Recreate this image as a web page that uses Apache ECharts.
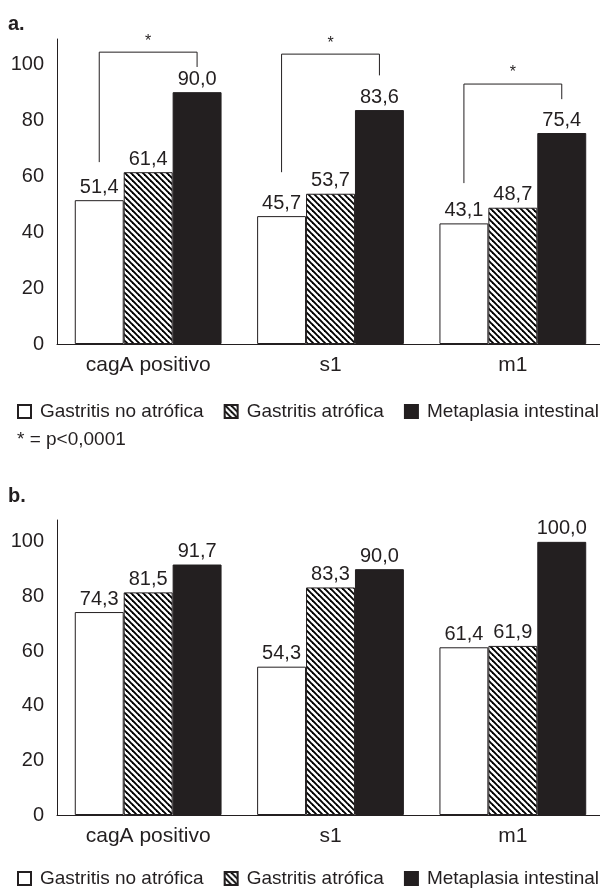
<!DOCTYPE html>
<html><head><meta charset="utf-8">
<script src="https://cdn.jsdelivr.net/npm/echarts@6/dist/echarts.min.js"></script>
<style>html,body{margin:0;padding:0;background:#fff}#c{width:600px;height:894px}</style>
</head><body><div id="c"></div>
<script>
// ---- data ----
const categories = ['cagA positivo', 's1', 'm1'];
const seriesNames = ['Gastritis no atrófica', 'Gastritis atrófica', 'Metaplasia intestinal'];
const aNoAtrofica = [51.4, 45.7, 43.1];
const aAtrofica = [61.4, 53.7, 48.7];
const aMetaplasia = [90.0, 83.6, 75.4];
const bNoAtrofica = [74.3, 54.3, 61.4];
const bAtrofica = [81.5, 83.3, 61.9];
const bMetaplasia = [91.7, 90.0, 100.0];
const yTicks = [0, 20, 40, 60, 80, 100];
// significance brackets (chart a): [category, left end, top, right end] in value units
const bracketCats = [0, 1, 2];
const bracketLeft = [65, 61.4, 57.5];
const bracketTop = [104.3, 103.6, 92.9];
const bracketRight = [99, 96, 87.5];
const footnote = '* = p<0,0001';

const DARK = '#231f20';
const FONT = '"Liberation Sans", Arial, Helvetica, sans-serif';

// hatch pattern
const pc = document.createElement('canvas');
pc.width = 6; pc.height = 6;
const g = pc.getContext('2d');
g.fillStyle = '#fff'; g.fillRect(0, 0, 6, 6);
g.strokeStyle = '#000'; g.lineWidth = 1.9;
for (const k of [-6, 0, 6]) { g.beginPath(); g.moveTo(k - 1, -1); g.lineTo(k + 7, 7); g.stroke(); }
const hatch = { image: pc, repeat: 'repeat' };

const fills = ['#ffffff', hatch, DARK];
const GAP = 0.195;

function fmt(v) { return v.toFixed(1).replace('.', ','); }

function barSeries(name, data, idx, axis) {
  return {
    name: name, type: 'bar', data: data,
    xAxisIndex: axis, yAxisIndex: axis,
    barGap: '0%', barCategoryGap: (GAP * 100) + '%',
    itemStyle: { color: fills[idx], borderColor: DARK, borderWidth: 1 },
    label: { show: true, position: 'top', distance: 3, color: DARK, fontSize: 20, fontFamily: FONT,
      formatter: p => fmt(p.value) },
    emphasis: { disabled: true }, animation: false
  };
}

const bracketData = bracketCats.map((c, i) => [c, bracketLeft[i], bracketTop[i], bracketRight[i]]);

function yAxis(gi, max) {
  return {
    type: 'value', gridIndex: gi, min: 0, max: max, interval: 20,
    axisLine: { show: true, lineStyle: { color: DARK, width: 1 } },
    axisTick: { show: false }, splitLine: { show: false },
    axisLabel: { color: DARK, fontSize: 20, fontFamily: FONT, margin: 13,
      formatter: v => (yTicks.indexOf(v) >= 0 ? String(v) : '') }
  };
}
function xAxis(gi) {
  return {
    type: 'category', gridIndex: gi, data: categories,
    axisLine: { show: true, lineStyle: { color: DARK, width: 1 } },
    axisTick: { show: false },
    axisLabel: { color: DARK, fontSize: 21, fontFamily: FONT, margin: 11 }
  };
}

function legend(top) {
  return { data: seriesNames, left: 17, top: top, width: 640, padding: 0, itemWidth: 13, itemHeight: 13, itemGap: 20, icon: 'rect',
    textStyle: { color: DARK, fontSize: 19, fontFamily: FONT, padding: [0, 0, 0, 4] }, selectedMode: false };
}

const chart = echarts.init(document.getElementById('c'), null, { renderer: 'canvas' });
chart.setOption({
  animation: false,
  grid: [
    { left: 57, width: 547, top: 39, height: 305, outerBoundsMode: 'none', containLabel: false },
    { left: 57, width: 547, top: 520, height: 295, outerBoundsMode: 'none', containLabel: false }
  ],
  xAxis: [xAxis(0), xAxis(1)],
  yAxis: [yAxis(0, 109), yAxis(1, 108)],
  legend: [legend(402), legend(869)],
  graphic: [
    { type: 'text', left: 8, top: 14, style: { text: 'a.', font: 'bold 20px ' + FONT, fill: DARK } },
    { type: 'text', left: 8, top: 486, style: { text: 'b.', font: 'bold 20px ' + FONT, fill: DARK } },
    { type: 'text', left: 17, top: 430, style: { text: footnote, font: '19px ' + FONT, fill: DARK } }
  ],
  series: [
    barSeries(seriesNames[0], aNoAtrofica, 0, 0),
    barSeries(seriesNames[1], aAtrofica, 1, 0),
    barSeries(seriesNames[2], aMetaplasia, 2, 0),
    barSeries(seriesNames[0], bNoAtrofica, 0, 1),
    barSeries(seriesNames[1], bAtrofica, 1, 1),
    barSeries(seriesNames[2], bMetaplasia, 2, 1),
    {
      type: 'custom', xAxisIndex: 0, yAxisIndex: 0, data: bracketData, silent: true,
      renderItem: function (params, api) {
        const c = api.value(0);
        const band = api.size([1, 0])[0];
        const bw = band * (1 - GAP) / 3;
        const cx = api.coord([c, 0])[0];
        const xl = cx - bw, xr = cx + bw;
        const yl = api.coord([c, api.value(1)])[1];
        const yt = api.coord([c, api.value(2)])[1];
        const yr = api.coord([c, api.value(3)])[1];
        return {
          type: 'group',
          children: [
            { type: 'polyline', shape: { points: [[xl, yl], [xl, yt], [xr, yt], [xr, yr]] },
              style: { stroke: DARK, lineWidth: 1, fill: null } },
            { type: 'text', x: (xl + xr) / 2, y: yt - 3,
              style: { text: '*', font: '16px ' + FONT, fill: DARK, textAlign: 'center', textVerticalAlign: 'bottom' } }
          ]
        };
      }
    }
  ]
});
</script></body></html>
